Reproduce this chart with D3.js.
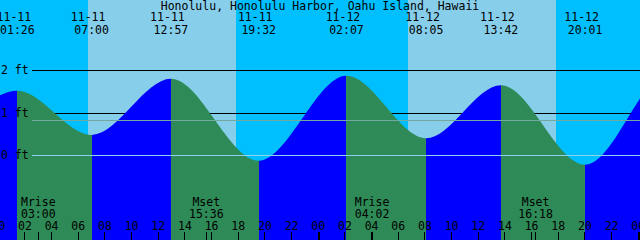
<!DOCTYPE html>
<html><head><meta charset="utf-8">
<script src="https://cdn.jsdelivr.net/npm/d3@7"></script>
<style>
html,body{margin:0;padding:0;background:#fff;}
svg{display:block;}
text{font-family:"DejaVu Sans Mono",monospace;font-size:11.5px;fill:#000;}
</style></head>
<body>
<script>
// ---- data ----
const title = "Honolulu, Honolulu Harbor, Oahu Island, Hawaii";
const tideTimes = ["11-10 12:10","11-10 17:30","11-11 01:26","11-11 07:00","11-11 12:57","11-11 19:32","11-12 02:07","11-12 08:05","11-12 13:42","11-12 20:01","11-13 02:25","11-13 09:00"];
const tideHeights = [1.90, 0.05, 1.52, 0.48, 1.80, -0.13, 1.87, 0.40, 1.65, -0.22, 1.98, 0.35];
const sunriseTimes = ["11-11 06:42","11-12 06:42"];
const sunsetTimes = ["11-11 17:52","11-12 17:52"];
const moonEvents = ["Mrise","Mset","Mrise","Mset"];
const moonTimes = ["11-11 03:00","11-11 15:36","11-12 04:02","11-12 16:18"];
const tickHours = [0,2,4,6,8,10,12,14,16,18,20,22,24,26,28,30,32,34,36,38,40,42,44,46,48];
const tickLabels = ["00","02","04","06","08","10","12","14","16","18","20","22","00","02","04","06","08","10","12","14","16","18","20","22","00"];
const depthValues = [0,1,2];
const depthLabels = ["0 ft","1 ft","2 ft"];
const mslValue = 0.82;

// ---- helpers ----
function hrs(s){ // "MM-DD HH:MM" -> hours since 11-11 00:00
  const day = +s.slice(3,5) - 11;
  return day*24 + (+s.slice(6,8)) + (+s.slice(9,11))/60;
}
const W = 640, H = 240;
const x = d3.scaleLinear().domain([0.13, 48.13]).range([0, W]);
const y = d3.scaleLinear().domain([0, 2]).range([155.3, 70.3]);

const svg = d3.select("body").append("svg").attr("width", W).attr("height", H);

// background: night / day
svg.append("rect").attr("x",0).attr("y",0).attr("width",W).attr("height",H)
  .attr("fill","#00BFFF").attr("shape-rendering","crispEdges");
sunriseTimes.forEach((sr,i)=>{
  const x0 = Math.round(x(hrs(sr))), x1 = Math.round(x(hrs(sunsetTimes[i])));
  svg.append("rect").attr("x",x0).attr("y",0).attr("width",x1-x0).attr("height",H)
    .attr("fill","#87CEEB").attr("shape-rendering","crispEdges");
});

// depth lines under the curve
[1,2].forEach(v=>{
  svg.append("line").attr("x1",32).attr("x2",W)
    .attr("y1",Math.round(y(v))+0.5).attr("y2",Math.round(y(v))+0.5)
    .attr("stroke","#000").attr("stroke-width",1);
});

// tide area
const pts = tideTimes.map((t,i)=>({h:hrs(t), v:tideHeights[i]}));
const area = d3.area().x(d=>x(d.h)).y0(H).y1(d=>y(d.v)).curve(d3.curveMonotoneX);
const defs = svg.append("defs");
for(let i=0;i<pts.length-1;i++){
  const a = Math.round(x(pts[i].h)), b = Math.round(x(pts[i+1].h));
  if (b < 0 || a > W) continue;
  const id = "seg"+i;
  defs.append("clipPath").attr("id",id).append("rect")
    .attr("x",a).attr("y",0).attr("width",b-a).attr("height",H);
  const rising = pts[i+1].v > pts[i].v;
  svg.append("path").attr("d",area(pts)).attr("clip-path","url(#"+id+")")
    .attr("fill", rising ? "#0000FF" : "#2E8B57");
}

// MSL and datum lines over the curve
svg.append("line").attr("x1",32).attr("x2",W)
  .attr("y1",Math.round(y(mslValue))+0.5).attr("y2",Math.round(y(mslValue))+0.5)
  .attr("stroke","#72A89E").attr("stroke-width",1);
svg.append("line").attr("x1",32).attr("x2",W)
  .attr("y1",Math.round(y(0))+0.5).attr("y2",Math.round(y(0))+0.5)
  .attr("stroke","#8CD2EC").attr("stroke-width",1);

// depth labels
depthValues.forEach((v,i)=>{
  svg.append("text").attr("x",1).attr("y",y(v)+4).text(depthLabels[i]);
});

// title
svg.append("text").attr("x",W/2).attr("y",9.5).attr("text-anchor","middle").text(title);

// tide event labels
pts.forEach(p=>{
  const px = x(p.h);
  if (px < -20 || px > W+20) return;
  const t = tideTimes[pts.indexOf(p)];
  svg.append("text").attr("x",px-3.5).attr("y",21).attr("text-anchor","middle").text(t.slice(0,5));
  svg.append("text").attr("x",px).attr("y",33.5).attr("text-anchor","middle").text(t.slice(6));
});

// moon labels
moonTimes.forEach((t,i)=>{
  const px = x(hrs(t));
  svg.append("text").attr("x",px).attr("y",206).attr("text-anchor","middle").text(moonEvents[i]);
  svg.append("text").attr("x",px).attr("y",218).attr("text-anchor","middle").text(t.slice(6));
  svg.append("rect").attr("x",Math.floor(px)).attr("y",232).attr("width",1).attr("height",8)
    .attr("fill","#000").attr("shape-rendering","crispEdges");
});

// hour ticks
tickHours.forEach((h,i)=>{
  const px = x(h);
  svg.append("text").attr("x",px).attr("y",229.5).attr("text-anchor","middle").text(tickLabels[i]);
  svg.append("rect").attr("x",Math.floor(px)).attr("y",232)
    .attr("width", h % 24 === 0 ? 2 : 1).attr("height",8)
    .attr("fill","#000").attr("shape-rendering","crispEdges");
});
</script>
</body></html>
